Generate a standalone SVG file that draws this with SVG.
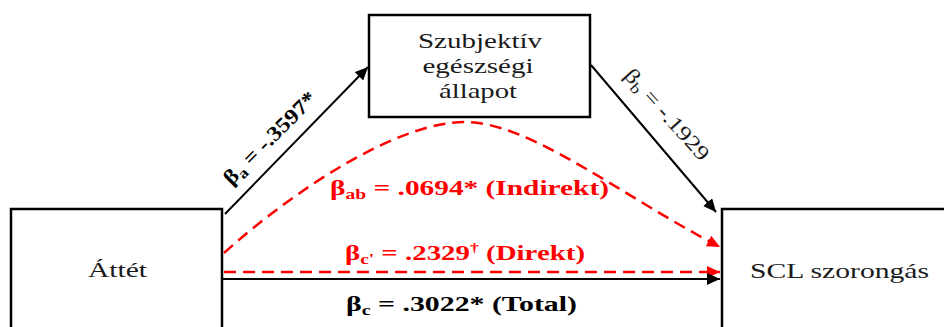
<svg xmlns="http://www.w3.org/2000/svg" width="944" height="327" viewBox="0 0 944 327">
  <style>
    .box { fill: #ffffff; stroke: #000000; stroke-width: 2.5; }
    .lbl { font-family: "Liberation Serif", "Times New Roman", serif; font-size: 21px; fill: #1a1a1a; }
    .coef { font-family: "Liberation Serif", "Times New Roman", serif; font-weight: bold; font-size: 21px; }
    .red { fill: #ff0000; }
    .blk { fill: #000000; }
    .solid { fill: none; stroke: #000000; stroke-width: 2; }
    .dash { fill: none; stroke: #ff0000; stroke-width: 2.5; stroke-dasharray: 12 7; }
  </style>
  <defs>
    <marker id="arrowBlack" markerUnits="userSpaceOnUse" markerWidth="14" markerHeight="12" refX="13" refY="6" orient="auto">
      <path d="M0,0 L13,6 L0,12 z" fill="#000000"/>
    </marker>
    <marker id="arrowRed" markerUnits="userSpaceOnUse" markerWidth="14" markerHeight="12" refX="13" refY="6" orient="auto">
      <path d="M0,0 L13,6 L0,12 z" fill="#ff0000"/>
    </marker>
  </defs>

  <!-- Nodes -->
  <g id="node-mediator">
    <rect class="box" x="369" y="15" width="221" height="102"/>
    <text class="lbl" x="480" y="48" text-anchor="middle" textLength="124" lengthAdjust="spacingAndGlyphs">Szubjektív</text>
    <text class="lbl" x="478" y="73" text-anchor="middle" textLength="111" lengthAdjust="spacingAndGlyphs">egészségi</text>
    <text class="lbl" x="478" y="98" text-anchor="middle" textLength="78" lengthAdjust="spacingAndGlyphs">állapot</text>
  </g>
  <g id="node-predictor">
    <rect class="box" x="11" y="209" width="211" height="130"/>
    <text class="lbl" x="117.5" y="277" text-anchor="middle" textLength="59" lengthAdjust="spacingAndGlyphs">Áttét</text>
  </g>
  <g id="node-outcome">
    <rect class="box" x="722" y="209" width="240" height="130"/>
    <text class="lbl" x="839.5" y="278" text-anchor="middle" textLength="179" lengthAdjust="spacingAndGlyphs">SCL szorongás</text>
  </g>

  <!-- Connectors -->
  <g id="connectors">
    <line class="solid" x1="225" y1="214" x2="368" y2="67" marker-end="url(#arrowBlack)"/>
    <line class="solid" x1="591" y1="65" x2="716" y2="212" marker-end="url(#arrowBlack)"/>
    <path class="dash" d="M224,253 C300,185 400,122 465,122 C530,122 620,195 720,247" marker-end="url(#arrowRed)"/>
    <line class="dash" x1="224" y1="272" x2="720" y2="272" marker-end="url(#arrowRed)"/>
    <line class="solid" x1="223" y1="279" x2="720" y2="279" marker-end="url(#arrowBlack)"/>

    <!-- path coefficients -->
    <text class="coef blk" font-size="24" transform="translate(231.6,186) rotate(-45)" textLength="122" lengthAdjust="spacingAndGlyphs">β<tspan font-size="15" dy="4">a</tspan><tspan dy="-4"> = -.3597*</tspan></text>
    <text class="lbl" font-size="23" fill="#000000" transform="translate(623,76) rotate(48)" textLength="116" lengthAdjust="spacingAndGlyphs">β<tspan font-size="15" dy="4">b</tspan><tspan dy="-4"> = -.1929</tspan></text>
    <text class="coef red" x="330" y="195" textLength="279" lengthAdjust="spacingAndGlyphs">β<tspan font-size="14" dy="4">ab</tspan><tspan dy="-4"> = .0694* (Indirekt)</tspan></text>
    <text class="coef red" x="345" y="260" textLength="240" lengthAdjust="spacingAndGlyphs">β<tspan font-size="14" dy="4">c'</tspan><tspan dy="-4"> = .2329</tspan><tspan font-size="13" dy="-8">†</tspan><tspan dy="8"> (Direkt)</tspan></text>
    <text class="coef blk" x="346" y="311" textLength="231" lengthAdjust="spacingAndGlyphs">β<tspan font-size="14" dy="4">c</tspan><tspan dy="-4"> = .3022* (Total)</tspan></text>
  </g>
</svg>
